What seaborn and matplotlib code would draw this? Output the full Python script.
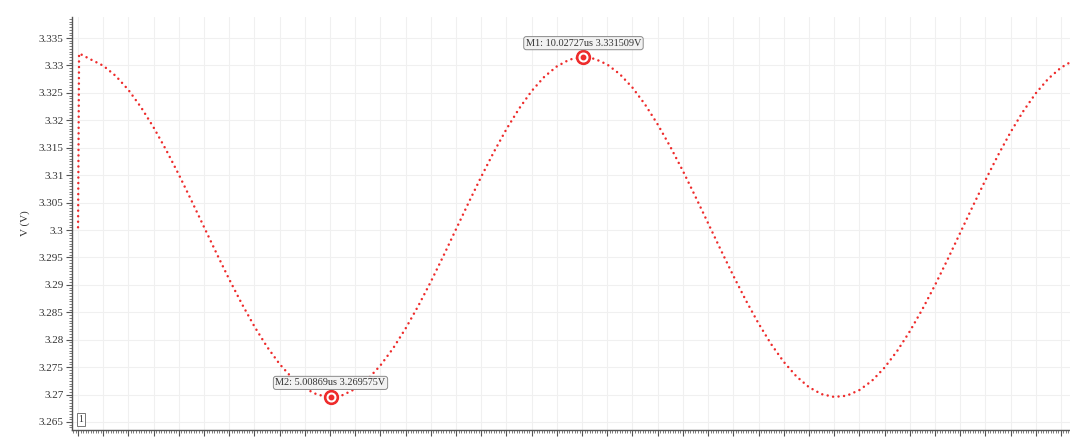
import numpy as np
import pandas as pd
import seaborn as sns
import matplotlib
matplotlib.use("Agg")
import matplotlib.pyplot as plt
from matplotlib.ticker import MultipleLocator, FormatStrFormatter

# ---- data ----
time_us = [0.0, 0.02] + [round(0.25 * k, 2) for k in range(1, 80)]
voltage_v = [
    3.3005, 3.3322,
    3.33110, 3.32995, 3.32807, 3.32553, 3.32237, 3.31868, 3.31455, 3.31009, 3.30536,
    3.30053, 3.29570, 3.29099, 3.28653, 3.28240, 3.27870, 3.27555, 3.27300, 3.27113,
    3.26997, 3.26957, 3.26990, 3.27103, 3.27282, 3.27532, 3.27842, 3.28207, 3.28616,
    3.29059, 3.29530, 3.30016, 3.30501, 3.30973, 3.31423, 3.31840, 3.32213, 3.32534,
    3.32793, 3.32983, 3.33107, 3.33151,
    3.33121, 3.33017, 3.32840, 3.32595, 3.32287, 3.31925, 3.31518, 3.31077, 3.30606,
    3.30124, 3.29640, 3.29167, 3.28716, 3.28297, 3.27920, 3.27597, 3.27333, 3.27135,
    3.27008, 3.26957, 3.26979, 3.27081, 3.27250, 3.27491, 3.27793, 3.28150, 3.28553,
    3.28992, 3.29460, 3.29945, 3.30431, 3.30905, 3.31359, 3.31782, 3.32162, 3.32491,
    3.32759, 3.32959, 3.33094,
]
marker_names = ["M1", "M2"]
marker_t = [10.02727, 5.00869]
marker_v = [3.331509, 3.269575]
marker_labels = ["M1: 10.02727us 3.331509V", "M2: 5.00869us 3.269575V"]
y_label = "V (V)"
trace_label = "1"

df = pd.DataFrame({"t": time_us, "v": voltage_v})

sns.set_theme(style="white")
plt.rcParams["font.family"] = ["Liberation Serif", "DejaVu Serif"]

fig = plt.figure(figsize=(10.7, 4.38), dpi=100)
ax = fig.add_axes([72 / 1070, 8 / 438, 1 - 72 / 1070, (430 - 17) / 438])

red = "#ee2b2b"
sns.lineplot(data=df, x="t", y="v", ax=ax, color=red, estimator=None, sort=False,
             linewidth=1.8, linestyle=(0, (0.01, 2.2)), dash_capstyle="round")

# markers
ax.plot(marker_t, marker_v, "o", ms=10, color=red, mec=red, zorder=5)
ax.plot(marker_t, marker_v, "o", ms=6.2, color="white", mec="white", zorder=6)
ax.plot(marker_t, marker_v, "o", ms=3.2, color=red, mec=red, zorder=7)
for t, v, lab in zip(marker_t, marker_v, marker_labels):
    ax.annotate(lab, xy=(t, v), xytext=(0, 14), textcoords="offset pixels",
                ha="center", va="center", fontsize=7.4, color="#333333",
                bbox=dict(boxstyle="round,pad=0.2,rounding_size=0.25", fc="#f2f2f2",
                          ec="#8a8a8a", lw=0.7), zorder=8)

ax.text(0.009, 0.025, trace_label, transform=ax.transAxes, fontsize=7, color="#333333",
        ha="center", va="center",
        bbox=dict(boxstyle="square,pad=0.2", fc="white", ec="#777777", lw=0.7))

ax.set_xlim(-0.12, 19.68)
ax.set_ylim(3.26354, 3.33883)
ax.xaxis.set_major_locator(MultipleLocator(0.5))
ax.xaxis.set_minor_locator(MultipleLocator(0.05))
ax.yaxis.set_major_locator(MultipleLocator(0.005))
ax.yaxis.set_minor_locator(MultipleLocator(0.0005))
ax.xaxis.set_major_formatter(FormatStrFormatter("%.1f"))
ax.yaxis.set_major_formatter(matplotlib.ticker.FuncFormatter(lambda v, p: f"{v:.3f}".rstrip("0").rstrip(".")))

ax.grid(True, which="major", color="#f0f0f0", linewidth=0.8)
ax.tick_params(axis="both", which="major", direction="out", length=4, width=0.8,
               color="#555555", labelsize=8, labelcolor="#333333", pad=2)
ax.tick_params(axis="both", which="minor", direction="out", length=2.5, width=0.6,
               color="#666666")
ax.tick_params(axis="x", bottom=True, which="both")
ax.tick_params(axis="y", left=True, which="both")
for s in ["top", "right"]:
    ax.spines[s].set_visible(False)
for s in ["left", "bottom"]:
    ax.spines[s].set_color("#555555")
    ax.spines[s].set_linewidth(1.0)

ax.set_xlabel("")
ax.set_ylabel(y_label, fontsize=8, color="#333333", labelpad=6)

fig.savefig("out.png", dpi=100)
